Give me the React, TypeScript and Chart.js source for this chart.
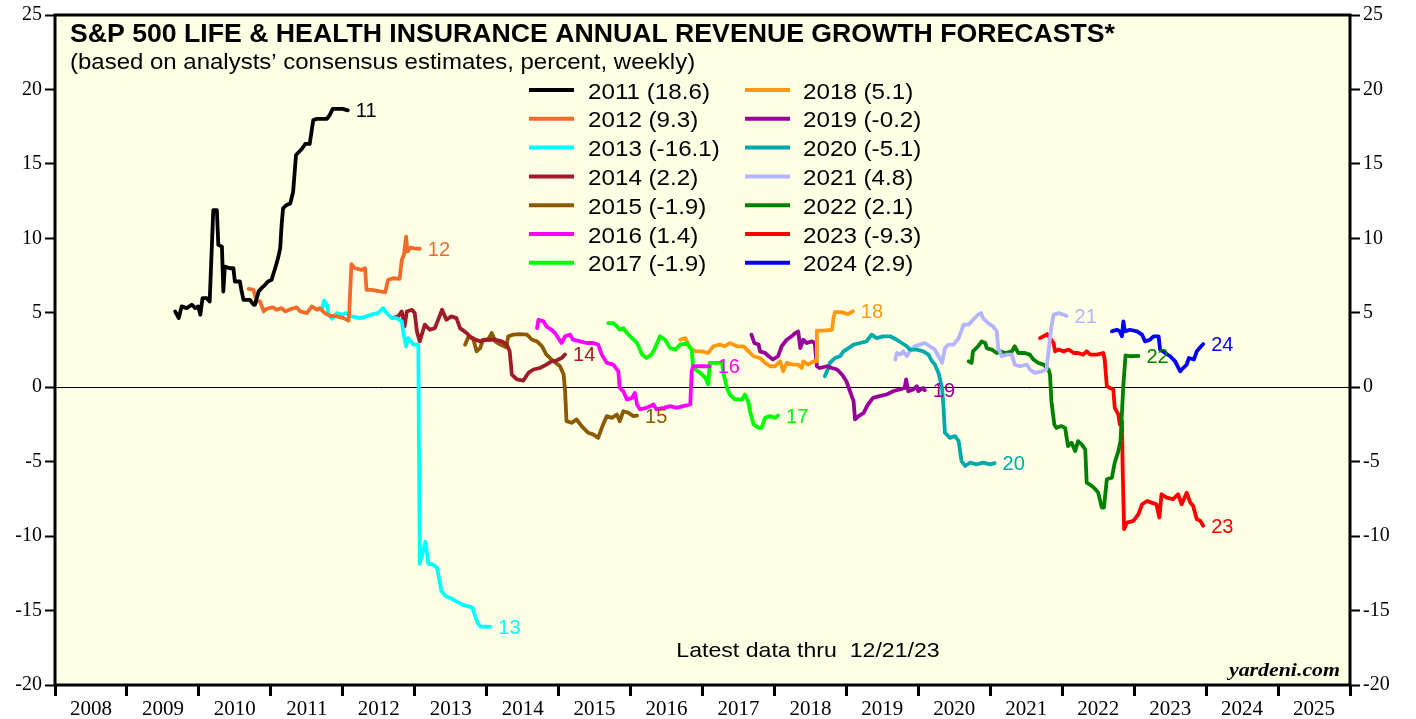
import React, { useEffect, useRef } from 'react';
import { Chart, registerables } from 'chart.js';

Chart.register(...registerables);

// ---------- data (x = decimal year of the weekly observation, y = percent) ----------
const YEARS = ['2011', '2012', '2013', '2014', '2015', '2016', '2017', '2018', '2019', '2020', '2021', '2022', '2023', '2024'];
const LEGEND_VALUES = ['18.6', '9.3', '-16.1', '2.2', '-1.9', '1.4', '-1.9', '5.1', '-0.2', '-5.1', '4.8', '2.1', '-9.3', '2.9'];
const COLORS = ['#000000', '#F26B2A', '#00FFFF', '#A01A28', '#8B5A00', '#FF00FF', '#00FF00', '#FF9A10', '#990099', '#00AAAA', '#B4B4FF', '#008000', '#FF0000', '#0000FF'];

const S2011 = [[2009.67, 5.09], [2009.72, 4.64], [2009.76, 5.43], [2009.83, 5.31], [2009.90, 5.54], [2009.95, 5.31], [2009.99, 5.43], [2010.02, 4.87], [2010.05, 5.98], [2010.11, 5.98], [2010.15, 5.76], [2010.20, 11.9], [2010.25, 11.9], [2010.27, 9.56], [2010.32, 9.44], [2010.34, 6.43], [2010.36, 8.1], [2010.43, 7.99], [2010.48, 7.99], [2010.50, 7.1], [2010.57, 7.1], [2010.59, 6.54], [2010.62, 5.87], [2010.71, 5.87], [2010.76, 5.54], [2010.78, 5.54], [2010.83, 6.43], [2010.87, 6.65], [2010.92, 6.88], [2010.96, 7.1], [2011.01, 7.21], [2011.06, 7.99], [2011.10, 8.66], [2011.13, 9.33], [2011.15, 10.9], [2011.17, 12.01], [2011.22, 12.24], [2011.27, 12.34], [2011.31, 13.13], [2011.35, 15.6], [2011.43, 16.0], [2011.48, 16.34], [2011.54, 16.34], [2011.59, 17.95], [2011.64, 18.02], [2011.78, 18.02], [2011.82, 18.29], [2011.86, 18.69], [2012.00, 18.69], [2012.07, 18.6]];
const S2012 = [[2010.69, 6.61], [2010.76, 6.54], [2010.80, 5.76], [2010.85, 5.76], [2010.90, 5.09], [2010.94, 5.27], [2011.03, 5.36], [2011.08, 5.2], [2011.15, 5.31], [2011.20, 5.09], [2011.29, 5.27], [2011.36, 5.36], [2011.41, 5.09], [2011.50, 4.98], [2011.57, 5.43], [2011.64, 5.2], [2011.68, 5.31], [2011.75, 4.98], [2011.82, 4.8], [2011.92, 4.76], [2012.01, 4.64], [2012.08, 4.47], [2012.09, 5.09], [2012.12, 8.26], [2012.17, 7.99], [2012.26, 7.88], [2012.31, 7.99], [2012.33, 6.54], [2012.40, 6.54], [2012.52, 6.43], [2012.59, 6.38], [2012.63, 7.21], [2012.70, 7.32], [2012.79, 7.28], [2012.82, 8.55], [2012.85, 8.89], [2012.88, 10.11], [2012.90, 9.11], [2012.94, 9.38], [2013.00, 9.33], [2013.07, 9.3]];
const S2013 = [[2011.71, 5.2], [2011.74, 5.81], [2011.78, 5.54], [2011.80, 4.98], [2011.85, 4.6], [2011.92, 4.98], [2011.99, 4.87], [2012.05, 4.98], [2012.12, 4.76], [2012.24, 4.64], [2012.33, 4.76], [2012.42, 4.91], [2012.49, 4.98], [2012.56, 5.31], [2012.61, 4.98], [2012.68, 4.64], [2012.75, 4.64], [2012.82, 4.42], [2012.84, 3.75], [2012.88, 2.75], [2012.91, 3.3], [2012.98, 2.86], [2013.05, 2.86], [2013.07, -11.86], [2013.15, -10.38], [2013.19, -11.86], [2013.25, -11.9], [2013.31, -12.12], [2013.37, -13.66], [2013.42, -14.0], [2013.56, -14.33], [2013.66, -14.6], [2013.80, -14.8], [2013.87, -15.8], [2013.91, -16.07], [2014.05, -16.1]];
const S2014 = [[2012.70, 4.64], [2012.77, 4.76], [2012.82, 5.09], [2012.86, 4.09], [2012.89, 5.09], [2012.96, 5.2], [2013.00, 4.98], [2013.03, 3.75], [2013.07, 3.08], [2013.14, 4.2], [2013.21, 3.86], [2013.28, 3.97], [2013.38, 5.2], [2013.44, 4.53], [2013.51, 4.76], [2013.58, 4.64], [2013.63, 3.97], [2013.72, 3.64], [2013.79, 3.3], [2013.91, 3.08], [2014.00, 3.19], [2014.12, 3.19], [2014.21, 3.08], [2014.28, 2.86], [2014.32, 2.41], [2014.35, 0.85], [2014.42, 0.52], [2014.51, 0.45], [2014.58, 0.96], [2014.65, 1.19], [2014.74, 1.29], [2014.83, 1.52], [2014.90, 1.74], [2014.97, 1.79], [2015.04, 1.96], [2015.09, 2.2]];
const S2015 = [[2013.70, 2.86], [2013.75, 3.42], [2013.81, 3.3], [2013.86, 2.41], [2013.91, 2.63], [2013.95, 3.19], [2014.02, 3.19], [2014.07, 3.64], [2014.12, 3.08], [2014.19, 2.86], [2014.27, 2.68], [2014.30, 3.42], [2014.37, 3.53], [2014.46, 3.57], [2014.56, 3.53], [2014.63, 3.19], [2014.70, 3.08], [2014.77, 2.75], [2014.83, 2.19], [2014.93, 1.74], [2015.02, 1.41], [2015.07, 0.85], [2015.09, -0.27], [2015.11, -2.28], [2015.18, -2.39], [2015.25, -2.16], [2015.32, -2.61], [2015.41, -3.06], [2015.48, -3.17], [2015.55, -3.4], [2015.60, -2.73], [2015.67, -1.94], [2015.74, -2.06], [2015.81, -1.83], [2015.85, -2.28], [2015.90, -1.61], [2015.97, -1.72], [2016.04, -1.94], [2016.09, -1.9]];
const S2016 = [[2014.70, 3.97], [2014.72, 4.53], [2014.79, 4.42], [2014.83, 4.09], [2014.90, 3.86], [2014.95, 3.64], [2015.04, 2.97], [2015.09, 3.42], [2015.16, 3.53], [2015.20, 3.19], [2015.30, 3.08], [2015.39, 2.97], [2015.48, 2.97], [2015.55, 2.86], [2015.60, 2.19], [2015.67, 1.63], [2015.76, 1.52], [2015.83, 1.07], [2015.85, -0.05], [2015.90, -0.27], [2015.95, -0.82], [2016.02, -0.72], [2016.06, -0.38], [2016.09, -1.16], [2016.13, -1.49], [2016.22, -1.39], [2016.32, -1.16], [2016.36, -1.49], [2016.46, -1.39], [2016.55, -1.27], [2016.64, -1.39], [2016.73, -1.27], [2016.83, -1.16], [2016.85, 1.07], [2016.87, 1.41], [2017.01, 1.41], [2017.10, 1.4]];
const S2017 = [[2015.69, 4.31], [2015.76, 4.31], [2015.81, 4.09], [2015.85, 3.86], [2015.90, 3.97], [2015.95, 3.64], [2016.02, 3.3], [2016.09, 2.97], [2016.16, 2.19], [2016.22, 1.96], [2016.29, 2.19], [2016.34, 2.63], [2016.41, 3.42], [2016.48, 3.19], [2016.55, 2.63], [2016.62, 2.53], [2016.69, 2.86], [2016.78, 2.97], [2016.85, 2.53], [2016.87, 1.29], [2016.97, 0.96], [2017.04, 0.63], [2017.08, 0.18], [2017.10, 1.63], [2017.17, 1.63], [2017.27, 1.63], [2017.29, 0.96], [2017.34, -0.05], [2017.38, -0.49], [2017.45, -0.82], [2017.55, -0.82], [2017.59, -0.49], [2017.64, -1.05], [2017.66, -1.61], [2017.71, -2.5], [2017.78, -2.73], [2017.82, -2.73], [2017.87, -2.06], [2017.94, -1.94], [2018.01, -2.06], [2018.05, -1.9]];
const S2018 = [[2016.69, 3.19], [2016.76, 3.3], [2016.83, 2.63], [2016.90, 2.41], [2016.99, 2.41], [2017.08, 2.3], [2017.15, 2.75], [2017.24, 2.86], [2017.31, 2.75], [2017.38, 2.97], [2017.48, 2.75], [2017.57, 2.75], [2017.64, 2.41], [2017.71, 2.08], [2017.80, 1.96], [2017.87, 1.63], [2017.94, 1.41], [2018.01, 1.41], [2018.08, 1.74], [2018.12, 1.07], [2018.17, 1.63], [2018.26, 1.52], [2018.33, 1.52], [2018.38, 1.29], [2018.40, 1.74], [2018.47, 1.52], [2018.54, 1.74], [2018.58, 1.74], [2018.59, 3.8], [2018.68, 3.8], [2018.80, 3.86], [2018.82, 4.64], [2018.84, 5.04], [2018.93, 5.04], [2019.02, 4.91], [2019.09, 5.1]];
const S2019 = [[2017.68, 3.53], [2017.72, 2.97], [2017.78, 2.86], [2017.80, 2.41], [2017.87, 2.3], [2017.92, 2.08], [2017.98, 1.86], [2018.05, 2.08], [2018.10, 2.75], [2018.17, 3.19], [2018.24, 3.42], [2018.29, 3.64], [2018.33, 3.75], [2018.36, 2.63], [2018.40, 3.19], [2018.45, 2.97], [2018.52, 3.08], [2018.56, 2.97], [2018.59, 1.41], [2018.63, 1.29], [2018.73, 1.41], [2018.80, 1.29], [2018.87, 1.19], [2018.94, 0.85], [2019.00, 0.4], [2019.05, -0.27], [2019.10, -0.94], [2019.12, -2.16], [2019.17, -1.94], [2019.24, -1.72], [2019.30, -1.16], [2019.37, -0.72], [2019.46, -0.6], [2019.56, -0.49], [2019.65, -0.27], [2019.74, -0.15], [2019.81, -0.05], [2019.83, 0.52], [2019.86, -0.27], [2019.93, -0.15], [2019.98, 0.07], [2020.00, -0.27], [2020.07, -0.05], [2020.09, -0.2]];
const S2020 = [[2018.70, 0.74], [2018.75, 1.29], [2018.77, 1.63], [2018.84, 1.96], [2018.91, 2.08], [2018.96, 2.41], [2019.03, 2.63], [2019.10, 2.86], [2019.19, 2.97], [2019.28, 3.08], [2019.35, 3.53], [2019.42, 3.3], [2019.51, 3.42], [2019.61, 3.42], [2019.70, 3.19], [2019.77, 2.97], [2019.84, 2.75], [2019.88, 2.53], [2019.98, 2.53], [2020.07, 2.41], [2020.14, 2.19], [2020.19, 1.74], [2020.23, 1.52], [2020.28, 0.96], [2020.33, -0.05], [2020.35, -1.39], [2020.37, -3.06], [2020.44, -3.4], [2020.51, -3.28], [2020.56, -3.62], [2020.60, -4.96], [2020.65, -5.29], [2020.72, -5.07], [2020.81, -5.18], [2020.90, -5.07], [2021.00, -5.18], [2021.06, -5.1]];
const S2021 = [[2019.68, 1.86], [2019.70, 2.3], [2019.75, 2.19], [2019.79, 2.41], [2019.84, 2.08], [2019.88, 2.41], [2019.95, 2.75], [2020.02, 2.86], [2020.09, 2.97], [2020.16, 2.75], [2020.23, 2.53], [2020.28, 2.08], [2020.33, 1.63], [2020.37, 2.63], [2020.42, 2.86], [2020.49, 2.86], [2020.56, 3.3], [2020.63, 4.2], [2020.70, 4.2], [2020.76, 4.53], [2020.83, 4.87], [2020.87, 4.98], [2020.90, 4.64], [2020.97, 4.31], [2021.04, 4.09], [2021.09, 3.75], [2021.11, 2.63], [2021.16, 2.08], [2021.23, 2.19], [2021.30, 2.19], [2021.34, 1.52], [2021.41, 1.41], [2021.51, 1.52], [2021.55, 1.19], [2021.62, 0.96], [2021.72, 1.07], [2021.78, 1.19], [2021.81, 2.41], [2021.85, 4.09], [2021.88, 4.87], [2021.95, 4.98], [2022.02, 4.87], [2022.06, 4.8]];
const S2022 = [[2020.70, 1.74], [2020.74, 1.63], [2020.76, 2.41], [2020.83, 2.75], [2020.88, 3.08], [2020.93, 2.97], [2020.95, 2.63], [2021.02, 2.53], [2021.09, 2.3], [2021.14, 2.41], [2021.21, 2.3], [2021.30, 2.41], [2021.34, 2.75], [2021.39, 2.3], [2021.48, 2.3], [2021.55, 2.19], [2021.60, 1.86], [2021.67, 1.63], [2021.74, 1.52], [2021.81, 1.19], [2021.83, 0.85], [2021.85, -0.94], [2021.89, -2.5], [2021.92, -2.73], [2021.99, -2.61], [2022.04, -2.73], [2022.08, -3.95], [2022.13, -3.73], [2022.18, -4.29], [2022.22, -3.62], [2022.27, -3.84], [2022.32, -4.17], [2022.34, -6.41], [2022.41, -6.63], [2022.46, -6.85], [2022.50, -7.08], [2022.55, -8.08], [2022.58, -8.08], [2022.62, -6.18], [2022.69, -6.08], [2022.73, -5.07], [2022.78, -4.29], [2022.81, -3.62], [2022.85, 0.18], [2022.88, 2.14], [2022.94, 2.08], [2023.06, 2.1]];
const S2023 = [[2021.69, 3.3], [2021.74, 3.42], [2021.79, 3.57], [2021.83, 3.3], [2021.88, 2.97], [2021.90, 2.41], [2021.95, 2.53], [2022.02, 2.41], [2022.09, 2.53], [2022.16, 2.3], [2022.22, 2.3], [2022.29, 2.19], [2022.34, 2.41], [2022.39, 2.19], [2022.48, 2.19], [2022.57, 2.3], [2022.59, 1.86], [2022.62, 0.07], [2022.66, -0.05], [2022.71, -0.15], [2022.73, -1.39], [2022.78, -1.83], [2022.80, -2.5], [2022.83, -2.28], [2022.84, -5.41], [2022.86, -9.53], [2022.90, -9.09], [2022.99, -8.98], [2023.06, -8.53], [2023.11, -7.86], [2023.18, -7.64], [2023.24, -7.75], [2023.31, -7.86], [2023.35, -8.75], [2023.38, -7.19], [2023.45, -7.41], [2023.54, -7.52], [2023.61, -7.19], [2023.66, -7.86], [2023.73, -7.08], [2023.78, -7.75], [2023.82, -7.97], [2023.87, -8.86], [2023.92, -8.98], [2023.96, -9.3]];
const S2024 = [[2022.69, 3.75], [2022.76, 3.86], [2022.80, 3.75], [2022.83, 3.42], [2022.85, 4.42], [2022.87, 3.75], [2022.94, 3.86], [2023.04, 3.75], [2023.11, 3.53], [2023.15, 3.08], [2023.22, 3.19], [2023.27, 3.42], [2023.34, 3.42], [2023.36, 2.53], [2023.43, 2.3], [2023.50, 2.08], [2023.57, 1.74], [2023.64, 1.07], [2023.66, 1.19], [2023.73, 1.52], [2023.76, 1.96], [2023.83, 1.86], [2023.87, 2.41], [2023.93, 2.75], [2023.96, 2.9]];

const SERIES = [S2011, S2012, S2013, S2014, S2015, S2016, S2017, S2018, S2019, S2020, S2021, S2022, S2023, S2024];

const X_MIN = 2008;
const X_MAX = 2026;
const Y_MIN = -20;
const Y_MAX = 25;
const Y_STEP = 5;

const TITLE = 'S&P 500 LIFE & HEALTH INSURANCE ANNUAL REVENUE GROWTH FORECASTS*';
const SUBTITLE = '(based on analysts\u2019 consensus estimates, percent, weekly)';
const NOTE = 'Latest data thru  12/21/23';
const SOURCE = 'yardeni.com';

// ---------- drawing helpers ----------
const SANS = '"Liberation Sans", Arial, Helvetica, sans-serif';
const SERIF = '"Liberation Serif", "Times New Roman", Times, serif';

function drawText(ctx: CanvasRenderingContext2D, text: string, x: number, y: number, font: string, color: string, sx: number, align: 'left' | 'center' | 'right', baseline: CanvasTextBaseline = 'alphabetic') {
  ctx.save();
  ctx.font = font;
  ctx.fillStyle = color;
  ctx.textBaseline = baseline;
  ctx.textAlign = 'left';
  const w = ctx.measureText(text).width * sx;
  let left = x;
  if (align === 'center') left = x - w / 2;
  else if (align === 'right') left = x - w;
  ctx.translate(left, y);
  ctx.scale(sx, 1);
  ctx.fillText(text, 0, 0);
  ctx.restore();
}

const decorPlugin = {
  id: 'decor',
  beforeDraw(chart: any) {
    const { ctx, chartArea: a } = chart;
    ctx.save();
    ctx.fillStyle = '#ffffff';
    ctx.fillRect(0, 0, chart.width, chart.height);
    ctx.fillStyle = '#FFFFE6';
    ctx.fillRect(a.left, a.top, a.right - a.left, a.bottom - a.top);
    ctx.restore();
  },
  afterDraw(chart: any) {
    const { ctx, chartArea: a } = chart;
    const xs = chart.scales.x;
    const ys = chart.scales.y;

    // frame
    ctx.save();
    ctx.strokeStyle = '#000';
    ctx.lineWidth = 3;
    ctx.strokeRect(a.left, a.top, a.right - a.left, a.bottom - a.top);
    ctx.restore();

    // titles
    drawText(ctx, TITLE, 70, 42, `bold 25px ${SANS}`, '#000', 1.066, 'left');
    drawText(ctx, SUBTITLE, 70, 69, `22px ${SANS}`, '#000', 1.09, 'left');

    // legend (two columns of seven)
    for (let i = 0; i < YEARS.length; i++) {
      const col = i < 7 ? 0 : 1;
      const row = i % 7;
      const y = 90 + row * 28.8;
      const lx = col ? 745 : 529;
      const tx = col ? 803 : 588;
      ctx.save();
      ctx.strokeStyle = COLORS[i];
      ctx.lineWidth = 4;
      ctx.beginPath();
      ctx.moveTo(lx, y);
      ctx.lineTo(lx + 45, y);
      ctx.stroke();
      ctx.restore();
      drawText(ctx, `${YEARS[i]} (${LEGEND_VALUES[i]})`, tx, y + 8.5, `22px ${SANS}`, '#000', 1.1, 'left');
    }

    // end-of-series labels
    chart.data.datasets.forEach((ds: any, i: number) => {
      const last = ds.data[ds.data.length - 1];
      const px = xs.getPixelForValue(last.x) + 8;
      const py = ys.getPixelForValue(last.y);
      drawText(ctx, YEARS[i].slice(2), px, py + 7, `20px ${SANS}`, COLORS[i], 1.0, 'left');
    });

    // notes
    drawText(ctx, NOTE, 808, 657, `21px ${SANS}`, '#000', 1.1, 'center');
    drawText(ctx, SOURCE, 1340, 676, `italic bold 19px ${SERIF}`, '#000', 1.15, 'right');
  },
};

const X_TICKS: number[] = [];
for (let v = X_MIN; v <= X_MAX; v += 0.5) X_TICKS.push(v);

export default function App() {
  const ref = useRef<HTMLCanvasElement>(null);

  useEffect(() => {
    if (!ref.current) return;
    const chart = new Chart(ref.current, {
      type: 'line',
      data: {
        datasets: SERIES.map((s, i) => ({
          label: YEARS[i],
          data: s.map(([x, y]) => ({ x, y })),
          borderColor: COLORS[i],
          backgroundColor: COLORS[i],
          borderWidth: 3.8,
          pointRadius: 0,
          tension: 0,
          fill: false,
          xAxisID: 'x',
          yAxisID: 'y',
        })),
      },
      options: {
        responsive: false,
        animation: false,
        devicePixelRatio: 1,
        layout: { padding: { top: 13, left: 0, right: 0, bottom: 0 } },
        plugins: { legend: { display: false }, tooltip: { enabled: false } },
        elements: { line: { borderJoinStyle: 'round', borderCapStyle: 'round' }, point: { radius: 0 } },
        scales: {
          x: {
            type: 'linear',
            position: 'bottom',
            min: X_MIN,
            max: X_MAX,
            afterBuildTicks: (scale: any) => {
              scale.ticks = X_TICKS.map((v) => ({ value: v }));
            },
            ticks: {
              autoSkip: false,
              maxRotation: 0,
              minRotation: 0,
              padding: 1,
              color: '#000',
              font: { family: SERIF, size: 21 },
              callback: (v: any) => (Math.abs((Number(v) % 1) - 0.5) < 1e-6 ? String(Math.floor(Number(v))) : ''),
            },
            grid: {
              drawOnChartArea: false,
              drawTicks: true,
              tickLength: 11,
              tickWidth: 3,
              tickColor: (c: any) => (c.tick && Number.isInteger(c.tick.value) ? '#000' : 'rgba(0,0,0,0)'),
            },
            border: { display: false },
            afterFit: (scale: any) => {
              scale.height = 34;
            },
          },
          y: {
            type: 'linear',
            position: 'left',
            min: Y_MIN,
            max: Y_MAX,
            ticks: { stepSize: Y_STEP, padding: 3, color: '#000', font: { family: SERIF, size: 20 } },
            grid: {
              drawOnChartArea: true,
              color: (c: any) => (c.tick && c.tick.value === 0 ? '#000' : 'rgba(0,0,0,0)'),
              lineWidth: 1,
              drawTicks: true,
              tickLength: 10,
              tickWidth: 2,
              tickColor: '#000',
            },
            border: { display: false },
            afterFit: (scale: any) => {
              scale.width = 55;
            },
          },
          y2: {
            type: 'linear',
            position: 'right',
            min: Y_MIN,
            max: Y_MAX,
            ticks: { stepSize: Y_STEP, padding: 3, color: '#000', font: { family: SERIF, size: 20 } },
            grid: { drawOnChartArea: false, drawTicks: true, tickLength: 10, tickWidth: 2, tickColor: '#000' },
            border: { display: false },
            afterFit: (scale: any) => {
              scale.width = 66;
            },
          },
        },
      } as any,
      plugins: [decorPlugin],
    });
    return () => chart.destroy();
  }, []);

  return (
    <div style={{ position: 'absolute', left: 0, top: 0, width: 1416, height: 719, background: '#fff' }}>
      <canvas ref={ref} width={1416} height={719} style={{ display: 'block', width: 1416, height: 719 }} />
    </div>
  );
}
